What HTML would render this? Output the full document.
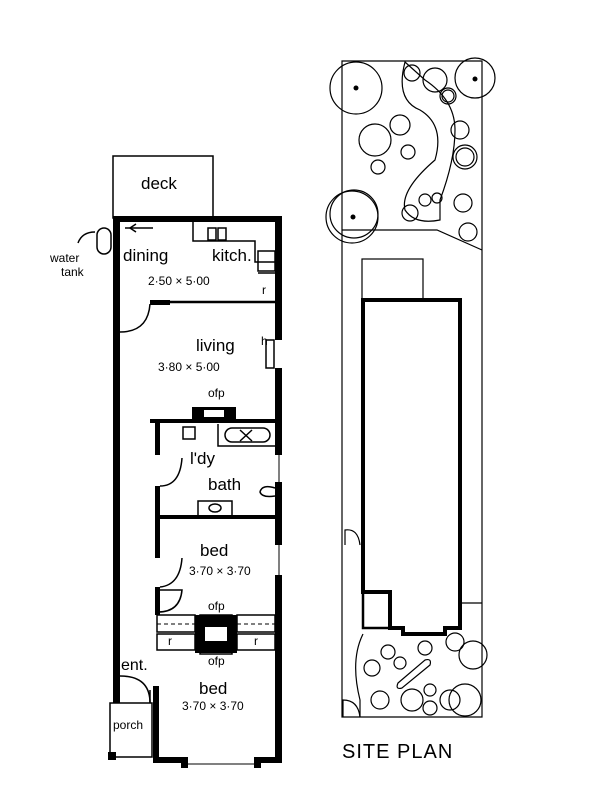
<!DOCTYPE html>
<html><head><meta charset="utf-8"><style>
html,body{margin:0;padding:0;background:#fff;}
svg{display:block;}
text{font-family:"Liberation Sans",sans-serif;fill:#000;}
</style></head><body>
<svg width="600" height="800" viewBox="0 0 600 800" xmlns="http://www.w3.org/2000/svg">
<g fill="none" stroke="#000" stroke-width="1.5">
<!-- deck -->
<rect x="113" y="156" width="100" height="62"/>
<!-- water tank -->
<rect x="97" y="228" width="14" height="26" rx="7"/>
<path d="M78 243 Q82 232 95 232"/>
<!-- dining/living wall -->
<line x1="150" y1="302" x2="275" y2="302" stroke-width="2.5"/>
<path d="M120 332 Q148 332 150 304"/>
<!-- kitchen -->
<path d="M193 222 V241 H255 V262 H275"/>
<rect x="208" y="228" width="8" height="12"/><rect x="218" y="228" width="8" height="12"/>
<rect x="258" y="251" width="17" height="20"/>
<line x1="258" y1="273" x2="275" y2="273"/>
<line x1="125" y1="228" x2="153" y2="228"/>
<path d="M136 224 L130 228 L136 232"/>
<!-- living window / h -->
<rect x="266" y="340" width="8" height="28"/>
<!-- laundry/bath -->
<rect x="183" y="427" width="12" height="12"/>
<path d="M218 424 V446 H275"/>
<rect x="225" y="428" width="45" height="14" rx="7"/>
<line x1="240" y1="430" x2="252" y2="441"/><line x1="252" y1="430" x2="240" y2="441"/>
<path d="M160 486 Q180 486 182 458"/>
<rect x="198" y="501" width="34" height="15"/>
<ellipse cx="215" cy="508" rx="6" ry="4"/>
<path d="M275 488 Q262 484 260 492 Q262 498 275 496"/>
<!-- bed1 door -->
<path d="M160 587 Q180 585 182 558"/>
<!-- bed fireplace cupboards -->
<rect x="157" y="615" width="38" height="17"/><rect x="237" y="615" width="38" height="17"/>
<line x1="157" y1="624" x2="195" y2="624" stroke-dasharray="4 3" stroke-width="1"/>
<line x1="237" y1="624" x2="275" y2="624" stroke-dasharray="4 3" stroke-width="1"/>
<rect x="157" y="634" width="38" height="16"/><rect x="237" y="634" width="38" height="16"/>
<rect x="200" y="615" width="32" height="6"/><rect x="200" y="648" width="32" height="6"/>
<!-- ent doors -->
<path d="M158 590 H182 Q180 612 158 612"/>
<path d="M120 676 Q150 676 150 703"/>
<line x1="150" y1="690" x2="150" y2="703"/>
<!-- porch -->
<rect x="110" y="703" width="42" height="54"/>
<line x1="188" y1="764" x2="254" y2="764" stroke-width="1"/>
<line x1="279" y1="455" x2="279" y2="482" stroke-width="1"/>
<line x1="279" y1="545" x2="279" y2="575" stroke-width="1"/>
</g>
<g fill="#000">
<!-- thick walls -->
<rect x="113" y="216" width="169" height="6"/>
<rect x="113" y="216" width="7" height="487"/>
<rect x="275" y="216" width="7" height="124"/>
<rect x="275" y="368" width="7" height="87"/>
<rect x="275" y="482" width="7" height="63"/>
<rect x="275" y="575" width="7" height="188"/>
<rect x="150" y="300" width="20" height="5"/>
<rect x="150" y="419" width="125" height="4"/>
<rect x="192" y="407" width="44" height="14"/>
<rect x="155" y="422" width="5" height="33"/>
<rect x="155" y="486" width="5" height="72"/>
<rect x="155" y="587" width="5" height="28"/>
<rect x="155" y="515" width="120" height="4"/>
<rect x="195" y="615" width="42" height="38"/>
<rect x="153" y="686" width="6" height="77"/>
<rect x="153" y="757" width="35" height="6"/>
<rect x="254" y="757" width="28" height="6"/>
<rect x="181" y="757" width="7" height="11"/>
<rect x="254" y="757" width="7" height="11"/>
<rect x="108" y="752" width="8" height="8"/>
</g>
<rect x="205" y="627" width="22" height="14" fill="#fff"/>
<rect x="204" y="410" width="20" height="7" fill="#fff"/>
<!-- labels -->
<text x="141" y="189" font-size="17">deck</text>
<text x="123" y="261" font-size="17">dining</text>
<text x="212" y="261" font-size="17">kitch.</text>
<text x="148" y="285" font-size="12">2·50 × 5·00</text>
<text x="262" y="294" font-size="12">r</text>
<text x="50" y="262" font-size="12">water</text>
<text x="61" y="276" font-size="12">tank</text>
<text x="196" y="351" font-size="17">living</text>
<text x="158" y="371" font-size="12">3·80 × 5·00</text>
<text x="261" y="345" font-size="12">h</text>
<text x="208" y="397" font-size="12">ofp</text>
<text x="190" y="464" font-size="17">l'dy</text>
<text x="208" y="490" font-size="17">bath</text>
<text x="200" y="556" font-size="17">bed</text>
<text x="189" y="575" font-size="12">3·70 × 3·70</text>
<text x="208" y="610" font-size="12">ofp</text>
<text x="168" y="645" font-size="12">r</text>
<text x="254" y="645" font-size="12">r</text>
<text x="208" y="665" font-size="12">ofp</text>
<text x="121" y="670" font-size="16">ent.</text>
<text x="199" y="694" font-size="17">bed</text>
<text x="182" y="710" font-size="12">3·70 × 3·70</text>
<text x="113" y="729" font-size="12">porch</text>

<!-- SITE PLAN -->
<g fill="none" stroke="#000" stroke-width="1.2">
<path d="M342 61 H482 V717 H342 Z"/>
<path d="M342 230 H437 L482 250"/>
<rect x="362" y="259" width="61" height="41"/>
<line x1="460" y1="603" x2="482" y2="603"/>
<path d="M345 545 V530 Q358 528 360 545"/>
<path d="M343 717 V700 Q358 700 360 717"/>
<path d="M405 62 Q395 100 420 110 Q445 125 435 160 Q400 190 405 210 Q415 225 440 220 L440 200 Q455 160 455 130 Q455 100 425 80 Z"/>
<circle cx="356" cy="88" r="26"/><circle cx="475" cy="78" r="20"/>
<circle cx="352" cy="217" r="26"/><circle cx="354" cy="214" r="24"/>
<circle cx="448" cy="96" r="8"/><circle cx="448" cy="96" r="6"/>
<circle cx="465" cy="157" r="12"/><circle cx="465" cy="157" r="9"/>
<circle cx="375" cy="140" r="16"/><circle cx="400" cy="125" r="10"/>
<circle cx="408" cy="152" r="7"/><circle cx="378" cy="167" r="7"/>
<circle cx="460" cy="130" r="9"/><circle cx="463" cy="203" r="9"/>
<circle cx="435" cy="80" r="12"/><circle cx="412" cy="73" r="8"/>
<circle cx="425" cy="200" r="6"/><circle cx="437" cy="198" r="5"/>
<circle cx="410" cy="213" r="8"/><circle cx="468" cy="232" r="9"/>
<path d="M363 634 Q350 660 360 700 L360 717"/>
<circle cx="372" cy="668" r="8"/><circle cx="388" cy="652" r="7"/>
<circle cx="380" cy="700" r="9"/><circle cx="412" cy="700" r="11"/>
<circle cx="430" cy="708" r="7"/><circle cx="450" cy="700" r="10"/>
<circle cx="465" cy="700" r="16"/><circle cx="473" cy="655" r="14"/>
<circle cx="455" cy="642" r="9"/><circle cx="425" cy="648" r="7"/>
<circle cx="430" cy="690" r="6"/><circle cx="400" cy="663" r="6"/>
<path d="M398 683 L425 660 Q432 658 430 665 L402 688 Q395 690 398 683 Z"/>
</g>
<g fill="#000">
<circle cx="356" cy="88" r="2.5"/><circle cx="475" cy="79" r="2.5"/><circle cx="353" cy="217" r="2.5"/>
</g>
<path d="M363 300 H460 V628 H445 V634 H403 V628 H390 V592 H363 Z" fill="none" stroke="#000" stroke-width="4"/>
<rect x="363" y="592" width="27" height="36" fill="none" stroke="#000" stroke-width="2.5"/>
<text x="342" y="758" font-size="20" letter-spacing="1">SITE PLAN</text>
</svg>
</body></html>
